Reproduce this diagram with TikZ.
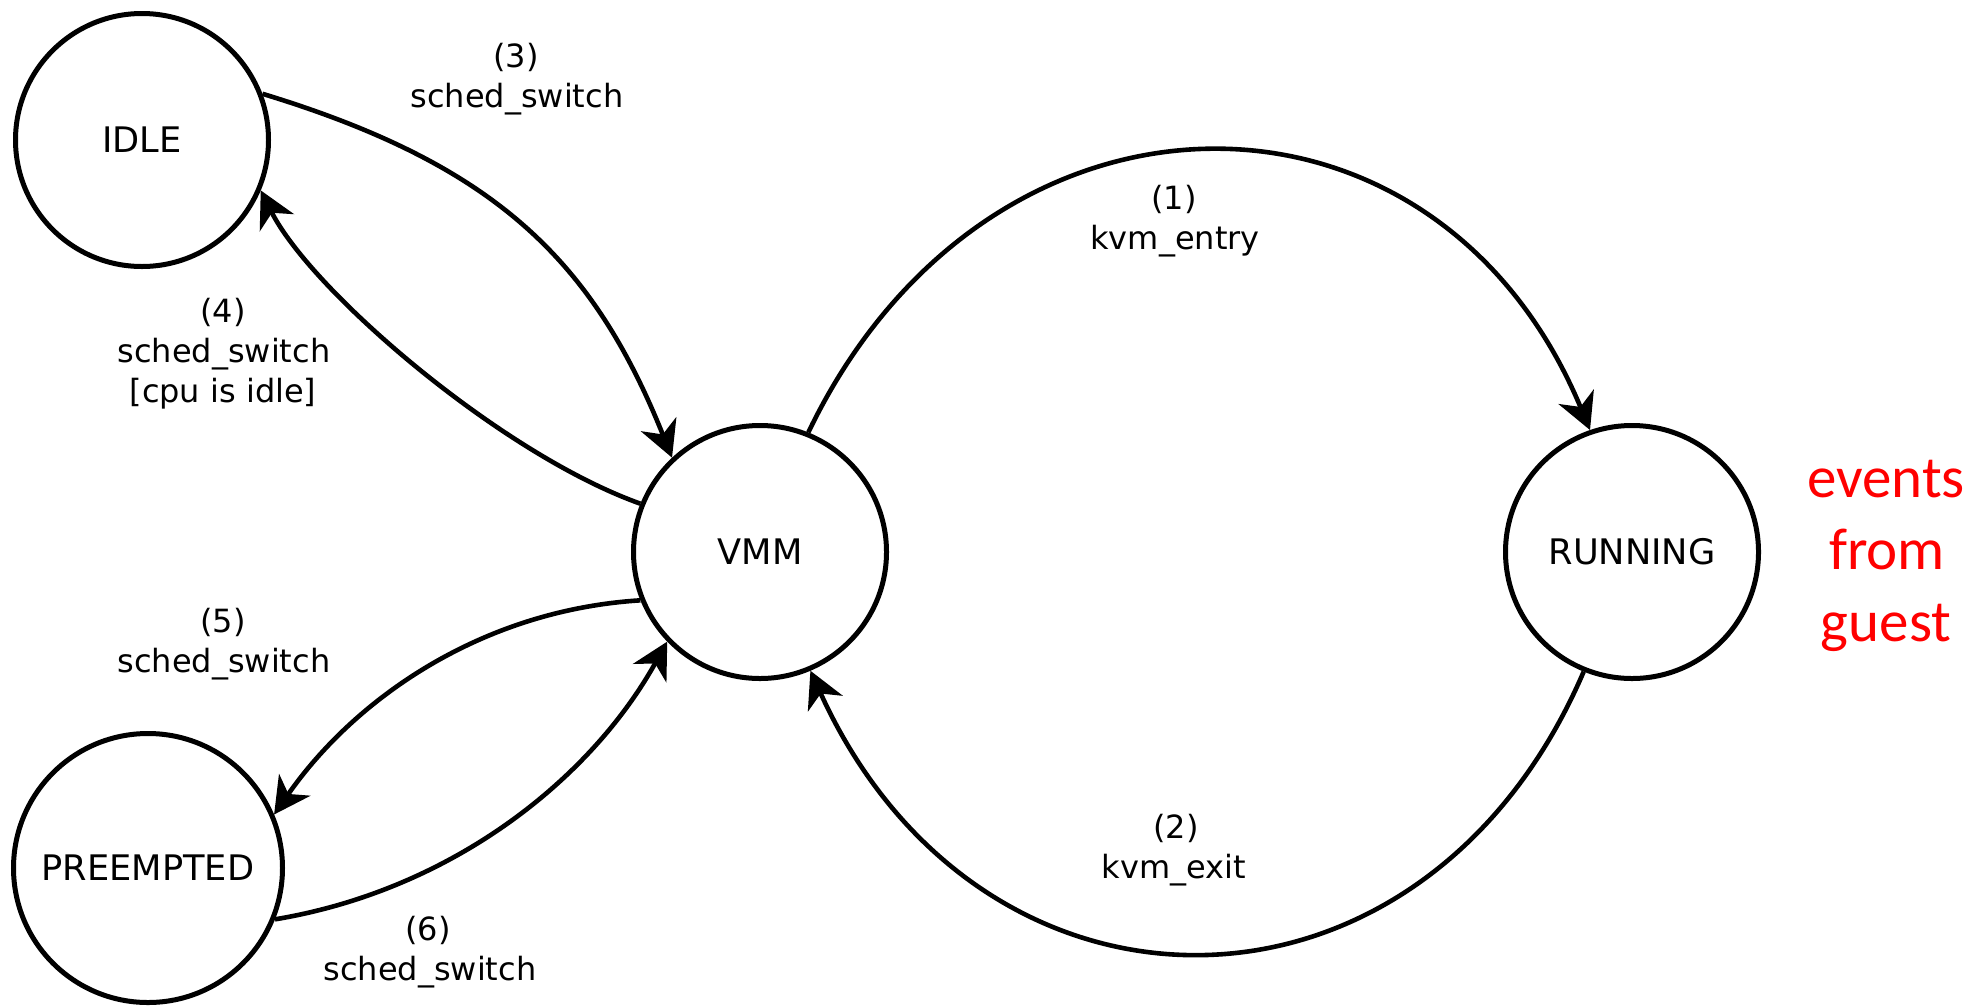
\documentclass[tikz,border=0pt]{standalone}
\usepackage{fontspec}
\setmainfont{DejaVu Sans}
\newfontfamily\guestfont{Carlito}
\usetikzlibrary{arrows.meta}
\begin{document}
\begin{tikzpicture}[x=0.5pt,y=-0.5pt,
  state/.style={circle,draw,line width=2.5pt,inner sep=0pt,minimum size=126.5pt,font=\fontsize{17.6}{20}\selectfont},
  edge/.style={line width=2.3pt,-{Stealth[length=18pt,width=19pt,inset=5.5pt]}},
  lbl/.style={anchor=base,inner sep=0pt,font=\fontsize{16}{20}\selectfont},
  guest/.style={anchor=base,inner sep=0pt,text=red,font=\guestfont\fontsize{29.5}{36}\selectfont}]
\useasboundingbox (0,0) rectangle (1984,1007);
% states
\node[state] (idle) at (142,140) {IDLE};
\node[state] (vmm) at (760,552) {VMM};
\node[state] (run) at (1632,552) {RUNNING};
\node[state,minimum size=134.5pt] (pre) at (148,868) {PREEMPTED};
% transitions
\draw[edge] (vmm.68.7) .. controls +(179,-373) and +(-155,-373) .. (run.109.8);
\draw[edge] (run.-112.7) .. controls +(-161,375) and +(170,375) .. (vmm.-67.7);
\draw[edge] (idle.21.6) .. controls +(230,70) and +(-80,-200) .. (vmm.133.8);
\draw[edge] (vmm.158.2) .. controls +(-140,-50) and +(50,100) .. (idle.-23.6);
\draw[edge] (vmm.202.3) .. controls +(-160,10) and +(80,-115) .. (pre.23.1);
\draw[edge] (pre.-22.4) .. controls +(180,-30) and +(-75,135) .. (vmm.224.4);
% labels
\node[lbl] (l3a) at (516,67) {(3)};
\node[lbl] (l3b) at (517,107) {sched\_switch};
\node[lbl] (l4a) at (223,322) {(4)};
\node[lbl] (l4b) at (224,362) {sched\_switch};
\node[lbl] (l4c) at (223,402) {[cpu is idle]};
\node[lbl] (l1a) at (1174,209) {(1)};
\node[lbl] (l1b) at (1175,249) {kvm\_entry};
\node[lbl] (l2a) at (1176,838) {(2)};
\node[lbl] (l2b) at (1174,878) {kvm\_exit};
\node[lbl] (l5a) at (223,632) {(5)};
\node[lbl] (l5b) at (224,672) {sched\_switch};
\node[lbl] (l6a) at (428,940) {(6)};
\node[lbl] (l6b) at (430,980) {sched\_switch};
\node[guest] (g1) at (1886,497) {events};
\node[guest] (g2) at (1887,569) {from};
\node[guest] (g3) at (1886,641) {guest};
\end{tikzpicture}
\end{document}
